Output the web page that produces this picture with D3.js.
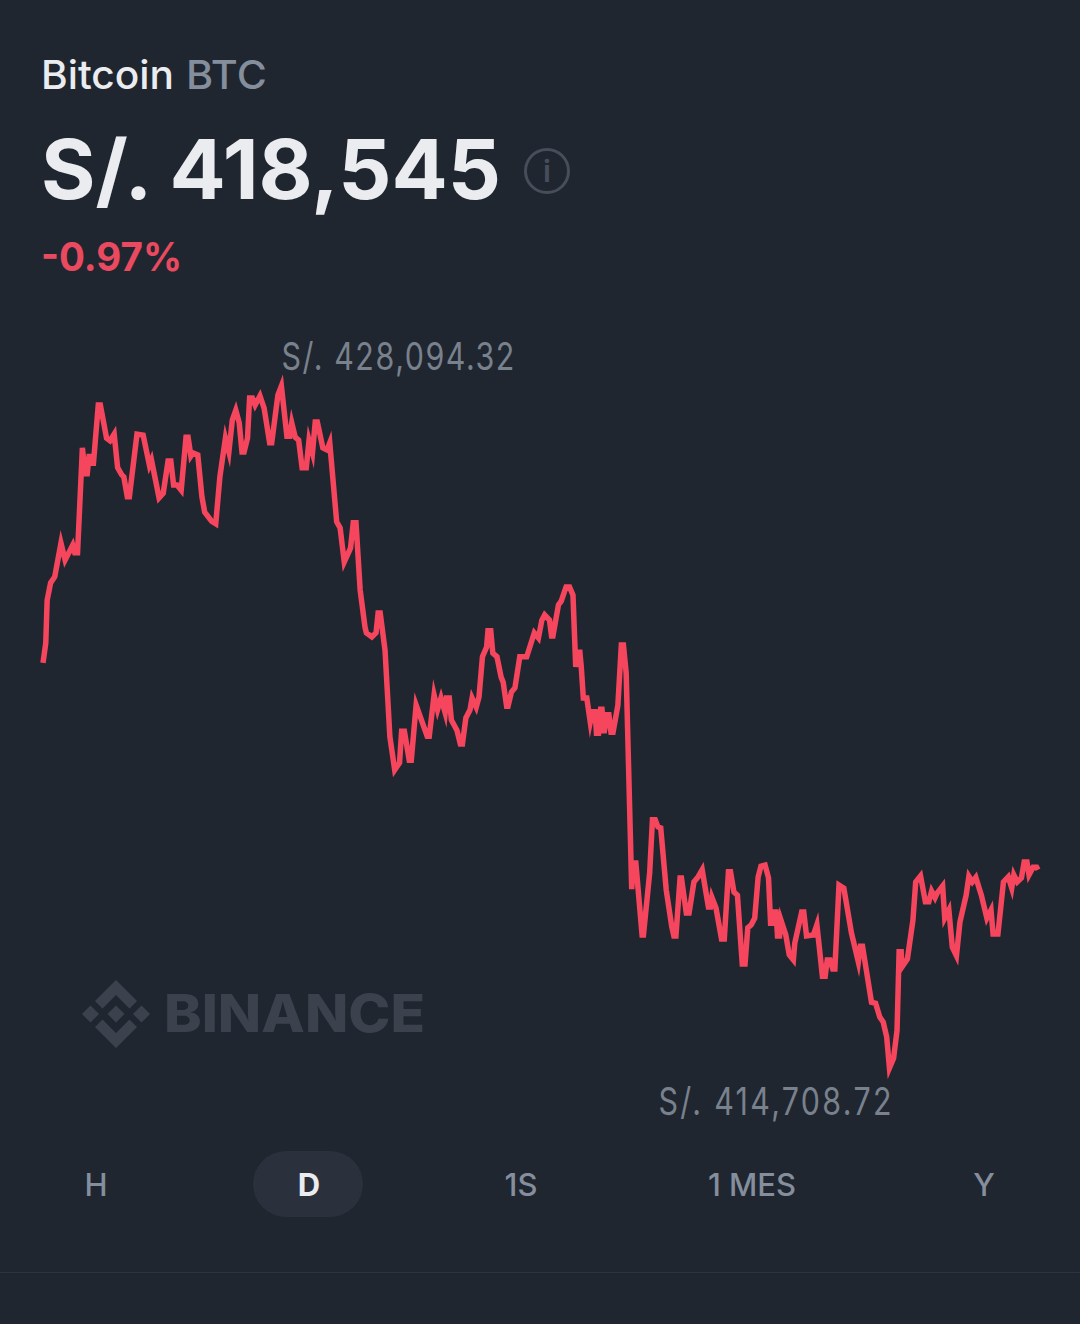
<!DOCTYPE html>
<html>
<head>
<meta charset="utf-8">
<title>Bitcoin BTC</title>
<script src="https://cdn.jsdelivr.net/npm/d3@7"></script>
<style>
  html, body { margin: 0; padding: 0; background: #1f2630; }
  svg { display: block; }
  text { font-family: Inter, Lato, sans-serif; }
</style>
</head>
<body>
<div id="chart"></div>
<script>
const minutes = [0,4,6,11,17,26,32,43,46,50,57,61,64,67,69,73,80,83,92,97,103,108,114,117,122,125,136,145,154,157,168,174,181,185,189,194,200,207,210,214,217,224,230,234,244,250,256,264,269,274,279,284,288,291,296,299,303,307,314,320,328,331,340,345,353,357,360,365,370,375,381,385,390,394,397,405,411,415,425,430,436,445,449,453,459,466,468,476,482,485,488,495,502,509,516,519,523,530,533,540,556,559,566,571,576,582,584,588,591,599,604,607,612,618,621,627,631,636,642,644,648,651,657,663,666,671,673,678,683,690,700,711,717,722,726,733,736,738,746,750,757,762,767,771,774,777,779,782,787,792,795,799,801,804,807,809,812,816,819,822,825,832,837,840,844,852,854,858,867,869,878,882,886,890,894,902,910,913,916,922,924,931,935,942,948,954,963,966,968,974,982,986,992,995,1000,1005,1012,1016,1020,1025,1030,1035,1039,1045,1050,1053,1057,1058,1061,1063,1066,1068,1075,1080,1086,1088,1098,1101,1105,1115,1120,1128,1132,1135,1139,1143,1146,1152,1159,1170,1180,1183,1186,1199,1205,1211,1216,1221,1225,1231,1236,1239,1242,1243,1251,1259,1263,1270,1277,1282,1286,1291,1294,1302,1305,1311,1316,1322,1327,1336,1340,1345,1350,1358,1366,1372,1375,1382,1390,1397,1402,1405,1410,1416,1420,1424,1427,1433,1438,1440];

const prices = [422660,423050,423890,424230,424350,425010,424680,424970,424820,424820,426880,426370,426370,426760,426580,426580,427720,427720,427070,427020,427150,426490,426350,426310,425920,425920,427150,427130,426540,426640,425900,425990,426620,426620,426150,426150,426050,427090,427090,426720,426780,426740,425920,425620,425440,425390,426310,427070,426800,427430,427620,427370,426800,426800,427070,427860,427860,427720,427900,427660,426980,426980,427920,428094.32,427110,427110,427370,427090,427030,426490,426490,427030,426780,427390,427390,426880,426840,426980,425430,425310,424640,424910,425410,425410,424090,423360,423250,423170,423250,423640,423640,422910,421210,420560,420700,421320,421320,420750,420750,421830,421220,421220,422030,421740,421970,421680,421970,421970,421540,421340,421070,421070,421580,421740,421970,421790,421990,422780,422970,423290,423290,422850,422780,422380,422280,421810,421810,422090,422170,422780,422780,423250,423150,423500,423600,423500,423190,423190,423800,423870,424150,424150,423990,422580,422870,422870,422580,421970,421970,421500,421700,421700,421280,421280,421750,421750,421280,421640,421640,421300,421300,421830,423010,423010,422460,418220,418730,418730,417320,417320,418540,419580,419580,419440,419420,418200,417480,417300,417300,418440,418440,417750,417750,418360,418460,418600,417870,417870,418060,417850,417240,417240,418560,418560,418160,418100,416750,416750,417460,417520,417650,418460,418670,418690,418440,417550,417550,417770,417770,417300,417300,417610,417320,416930,416830,417160,417770,417770,417300,417320,417520,416510,416510,416830,416830,416650,416650,418300,418240,417360,416790,417100,417100,416000,415980,415710,415610,415320,414708.72,414900,415450,416990,416990,416690,416850,417610,418360,418480,417970,417970,418180,418050,418140,418280,417650,417810,417080,416910,417570,418100,418470,418360,418450,418100,417650,417810,417340,417340,418360,418460,418240,418500,418360,418440,418750,418750,418500,418650,418650,418600];

const tabs = ["H", "D", "1S", "1 MES", "Y"];
const activeTab = "D";
const coinName = "Bitcoin";
const coinSymbol = "BTC";
const lastPrice = "S/. 418,545";
const change = "-0.97%";

const width = 1080, height = 1324;
const red = "#f6465d", grey = "#848e9c";

const svg = d3.select("#chart").append("svg")
    .attr("width", width)
    .attr("height", height);

svg.append("rect")
    .attr("width", width)
    .attr("height", height)
    .attr("fill", "#1f2630");

const points = minutes.map((m, i) => ({minute: m, price: prices[i]}));
const maxPoint = points[d3.maxIndex(prices)];
const minPoint = points[d3.minIndex(prices)];

const x = d3.scaleLinear().domain([0, 1440]).range([43, 1038]);
const y = d3.scaleLinear().domain([minPoint.price, maxPoint.price]).range([1068, 386]);

// header
svg.append("text").attr("x", 41).attr("y", 89)
    .attr("font-size", 40).attr("font-weight", 500).attr("fill", "#eaecef")
    .attr("textLength", 133).attr("lengthAdjust", "spacingAndGlyphs")
    .text(coinName);
svg.append("text").attr("x", 186).attr("y", 89)
    .attr("font-size", 40).attr("font-weight", 500).attr("fill", grey)
    .attr("textLength", 81).attr("lengthAdjust", "spacingAndGlyphs")
    .text(coinSymbol);
svg.append("text").attr("x", 41).attr("y", 199)
    .attr("font-size", 82).attr("font-weight", 700).attr("fill", "#eaecef")
    .attr("textLength", 460).attr("lengthAdjust", "spacingAndGlyphs")
    .text(lastPrice);
svg.append("text").attr("x", 41).attr("y", 271)
    .attr("font-size", 40).attr("font-weight", 700).attr("fill", "#ea4a5f")
    .attr("textLength", 141).attr("lengthAdjust", "spacingAndGlyphs")
    .text(change);

// info icon
svg.append("circle").attr("cx", 547).attr("cy", 171).attr("r", 21.5)
    .attr("fill", "none").attr("stroke", "#474e5a").attr("stroke-width", 3);
svg.append("text").attr("x", 547).attr("y", 182).attr("text-anchor", "middle")
    .attr("font-size", 30).attr("font-weight", 600).attr("fill", "#474e5a").text("i");

// watermark
const logo = svg.append("g").attr("transform", "translate(116,1014)").attr("fill", "#3b424d");
[
  "M0,-8.5L8.5,0L0,8.5L-8.5,0Z",
  "M-25.5,-8.5L-17,0L-25.5,8.5L-34,0Z",
  "M25.5,-8.5L34,0L25.5,8.5L17,0Z",
  "M0,-34L21,-13L13.5,-5.5L0,-19L-13.5,-5.5L-21,-13Z",
  "M0,34L21,13L13.5,5.5L0,19L-13.5,5.5L-21,13Z"
].forEach(d => logo.append("path").attr("d", d));
svg.append("text").attr("x", 164).attr("y", 1032)
    .attr("font-size", 52).attr("font-weight", 800).attr("fill", "#3b424d")
    .attr("textLength", 261).attr("lengthAdjust", "spacingAndGlyphs")
    .text("BINANCE");

// price line
const line = d3.line()
    .x(d => x(d.minute))
    .y(d => y(d.price));

svg.append("path")
    .datum(points)
    .attr("fill", "none")
    .attr("stroke", red)
    .attr("stroke-width", 5.5)
    .attr("stroke-linejoin", "miter")
    .attr("stroke-miterlimit", 6)
    .attr("d", line);

// high and low labels, squeezed a bit to look like the narrow app font
const money = v => "S/. " + d3.format(",.2f")(v);
const squeeze = 0.8;
function priceLabel(px, py, value) {
  svg.append("text")
      .attr("transform", "translate(" + px + "," + py + ") scale(" + squeeze + ",1)")
      .attr("font-family", "Roboto").attr("font-size", 38).attr("fill", "#79818d")
      .attr("textLength", 233 / squeeze).attr("lengthAdjust", "spacing")
      .text(money(value));
}
priceLabel(x(maxPoint.minute), y(maxPoint.price) - 16, maxPoint.price);
priceLabel(x(minPoint.minute) - 231, y(minPoint.price) + 47, minPoint.price);

// range tabs
const tabX = d3.scaleOrdinal().domain(tabs).range([96, 309, 521, 752, 984]);

svg.append("rect")
    .attr("x", tabX(activeTab) - 56).attr("y", 1151)
    .attr("width", 110).attr("height", 66).attr("rx", 33)
    .attr("fill", "#2a313c");

svg.selectAll(".tab")
    .data(tabs)
  .enter().append("text")
    .attr("class", "tab")
    .attr("x", d => tabX(d))
    .attr("y", 1196)
    .attr("text-anchor", "middle")
    .attr("font-family", "Roboto")
    .attr("font-size", 31)
    .attr("font-weight", d => d === activeTab ? 700 : 500)
    .attr("fill", d => d === activeTab ? "#eaecef" : grey)
    .text(d => d);

svg.append("line")
    .attr("x1", 0).attr("x2", width)
    .attr("y1", 1272.5).attr("y2", 1272.5)
    .attr("stroke", "#2e343f").attr("stroke-width", 1);
</script>
</body>
</html>
